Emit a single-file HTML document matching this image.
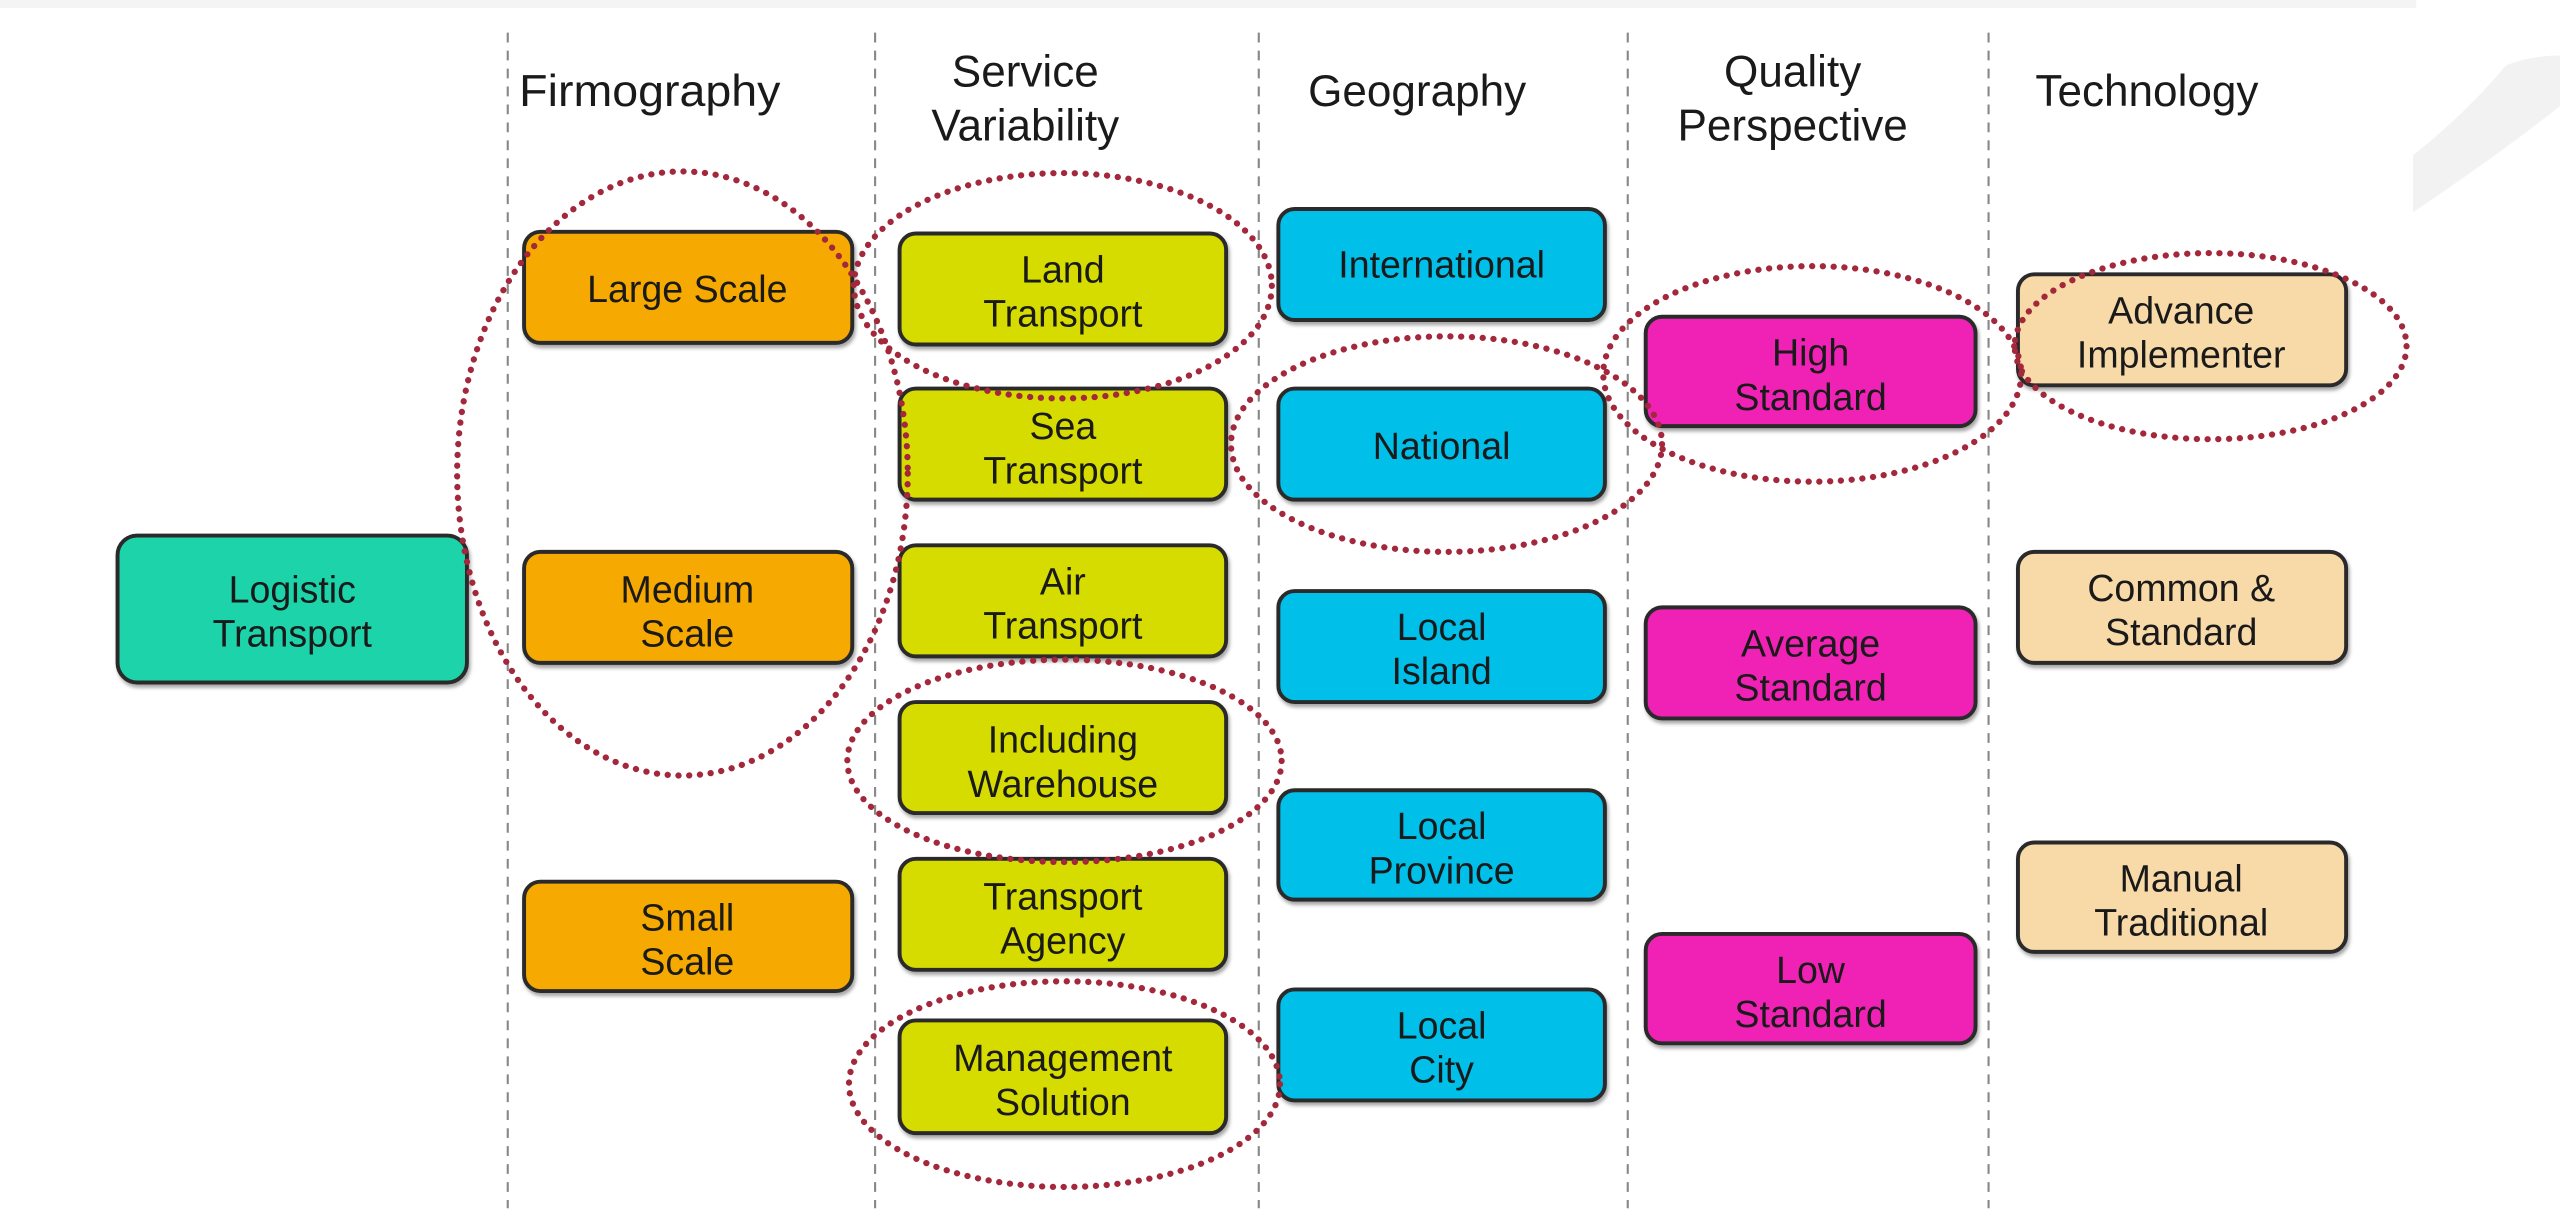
<!DOCTYPE html>
<html><head><meta charset="utf-8"><style>
html,body{margin:0;padding:0;background:#fff;width:2560px;height:1211px;overflow:hidden}
svg{display:block}
text{font-family:"Liberation Sans",Arial,sans-serif;fill:#1a1a1a}
</style></head><body>
<svg width="2560" height="1211" viewBox="0 0 1568 741.7" preserveAspectRatio="none" xmlns="http://www.w3.org/2000/svg">
<defs>
<filter id="sh" x="-10%" y="-10%" width="120%" height="130%">
<feDropShadow dx="1" dy="2" stdDeviation="1.2" flood-color="#000" flood-opacity="0.35"/>
</filter>
</defs>
<rect x="0" y="0" width="1568" height="742" fill="#fff"/>
<rect x="0" y="0" width="1480" height="5" fill="#f4f4f4"/>
<path d="M1478 95 Q1510 70 1535 40 Q1550 34 1568 34 L1568 65 Q1530 95 1478 130 Z" fill="#f2f2f2"/>
<g stroke="#888" stroke-width="1.3" stroke-dasharray="6,5">
<line x1="311" y1="20" x2="311" y2="740"/>
<line x1="536" y1="20" x2="536" y2="740"/>
<line x1="771" y1="20" x2="771" y2="740"/>
<line x1="997" y1="20" x2="997" y2="740"/>
<line x1="1218" y1="20" x2="1218" y2="740"/>
</g>
<g font-size="27" text-anchor="middle">
<text x="398" y="65" textLength="160" lengthAdjust="spacingAndGlyphs">Firmography</text>
<text x="628" y="53">Service</text><text x="628" y="86">Variability</text>
<text x="868" y="65">Geography</text>
<text x="1098" y="53">Quality</text><text x="1098" y="86">Perspective</text>
<text x="1315" y="65">Technology</text>
</g>
<g stroke="#2a2a2a" stroke-width="2.4" filter="url(#sh)">
<rect x="72" y="328" width="214" height="90" rx="12" fill="#1ed3aa"/>
<rect x="321" y="142" width="201" height="68" rx="10" fill="#f6a900"/>
<rect x="321" y="338" width="201" height="68" rx="10" fill="#f6a900"/>
<rect x="321" y="540" width="201" height="67" rx="10" fill="#f6a900"/>
<rect x="551" y="143" width="200" height="68" rx="10" fill="#d6dc00"/>
<rect x="551" y="238" width="200" height="68" rx="10" fill="#d6dc00"/>
<rect x="551" y="334" width="200" height="68" rx="10" fill="#d6dc00"/>
<rect x="551" y="430" width="200" height="68" rx="10" fill="#d6dc00"/>
<rect x="551" y="526" width="200" height="68" rx="10" fill="#d6dc00"/>
<rect x="551" y="625" width="200" height="69" rx="10" fill="#d6dc00"/>
<rect x="783" y="128" width="200" height="68" rx="10" fill="#03bfe9"/>
<rect x="783" y="238" width="200" height="68" rx="10" fill="#03bfe9"/>
<rect x="783" y="362" width="200" height="68" rx="10" fill="#03bfe9"/>
<rect x="783" y="484" width="200" height="67" rx="10" fill="#03bfe9"/>
<rect x="783" y="606" width="200" height="68" rx="10" fill="#03bfe9"/>
<rect x="1008" y="194" width="202" height="67" rx="10" fill="#f022b6"/>
<rect x="1008" y="372" width="202" height="68" rx="10" fill="#f022b6"/>
<rect x="1008" y="572" width="202" height="67" rx="10" fill="#f022b6"/>
<rect x="1236" y="168" width="201" height="68" rx="10" fill="#f8d9a8"/>
<rect x="1236" y="338" width="201" height="68" rx="10" fill="#f8d9a8"/>
<rect x="1236" y="516" width="201" height="67" rx="10" fill="#f8d9a8"/>
</g>
<g font-size="23" text-anchor="middle">
<text x="179" y="369">Logistic</text><text x="179" y="396">Transport</text>
<text x="421" y="185">Large Scale</text>
<text x="421" y="369">Medium</text><text x="421" y="396">Scale</text>
<text x="421" y="570">Small</text><text x="421" y="597">Scale</text>
<text x="651" y="173">Land</text><text x="651" y="200">Transport</text>
<text x="651" y="269">Sea</text><text x="651" y="296">Transport</text>
<text x="651" y="364">Air</text><text x="651" y="391">Transport</text>
<text x="651" y="461">Including</text><text x="651" y="488">Warehouse</text>
<text x="651" y="557">Transport</text><text x="651" y="584">Agency</text>
<text x="651" y="656">Management</text><text x="651" y="683">Solution</text>
<text x="883" y="170">International</text>
<text x="883" y="281">National</text>
<text x="883" y="392">Local</text><text x="883" y="419">Island</text>
<text x="883" y="514">Local</text><text x="883" y="541">Province</text>
<text x="883" y="636">Local</text><text x="883" y="663">City</text>
<text x="1109" y="224">High</text><text x="1109" y="251">Standard</text>
<text x="1109" y="402">Average</text><text x="1109" y="429">Standard</text>
<text x="1109" y="602">Low</text><text x="1109" y="629">Standard</text>
<text x="1336" y="198">Advance</text><text x="1336" y="225">Implementer</text>
<text x="1336" y="368">Common &amp;</text><text x="1336" y="395">Standard</text>
<text x="1336" y="546">Manual</text><text x="1336" y="573">Traditional</text>
</g>
<g fill="none" stroke="#a3283c" stroke-width="3.8" stroke-linecap="round" stroke-dasharray="0.1,6.5">
<ellipse cx="418" cy="290" rx="138" ry="185"/>
<ellipse cx="651" cy="175" rx="128" ry="69"/>
<ellipse cx="886" cy="272" rx="132" ry="66"/>
<ellipse cx="1110" cy="229" rx="128" ry="66"/>
<ellipse cx="1354" cy="212" rx="120" ry="57"/>
<ellipse cx="652" cy="466" rx="133" ry="62"/>
<ellipse cx="652" cy="664" rx="132" ry="63"/>
</g>
</svg>
</body></html>
